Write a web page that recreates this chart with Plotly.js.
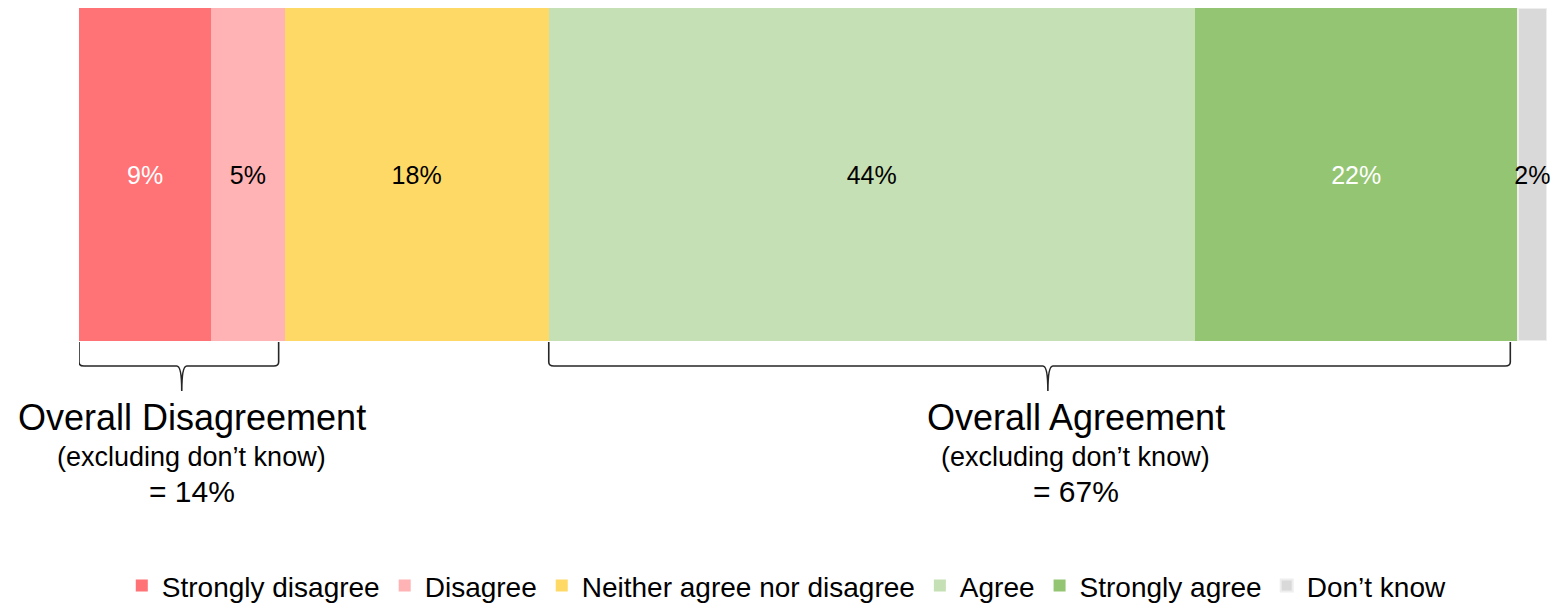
<!DOCTYPE html>
<html>
<head>
<meta charset="utf-8">
<script src="https://cdn.plot.ly/plotly-3.0.1.min.js"></script>
<style>
  html, body { margin: 0; padding: 0; background: #ffffff; }
  #chart { width: 1558px; height: 604px; }
</style>
</head>
<body>
<div id="chart"></div>
<script>
// ---- data ----
const categories = ['Strongly disagree', 'Disagree', 'Neither agree nor disagree', 'Agree', 'Strongly agree', 'Don\u2019t know'];
const values = [9, 5, 18, 44, 22, 2];
const barLabels = ['9%', '5%', '18%', '44%', '22%', '2%'];
const groupTitles = ['Overall Disagreement', 'Overall Agreement'];
const groupSubtitles = ['(excluding don\u2019t know)', '(excluding don\u2019t know)'];
const groupTotals = ['= 14%', '= 67%'];
const groupMembers = [[0, 1], [3, 4]];

// ---- style ----
const colors = ['#FF7276', '#FFB3B5', '#FFD966', '#C5E0B4', '#94C572', '#D9D9D9'];
const textColors = ['#ffffff', '#000000', '#000000', '#000000', '#ffffff', '#000000'];
const lineColors = ['rgba(0,0,0,0)', 'rgba(0,0,0,0)', 'rgba(0,0,0,0)', 'rgba(0,0,0,0)', 'rgba(0,0,0,0)', '#EEEEEE'];
const lineWidths = [0, 0, 0, 0, 0, 2];
const FONT = 'Liberation Sans, Arial, sans-serif';

const traces = categories.map((c, i) => ({
  type: 'bar',
  orientation: 'h',
  name: c,
  y: ['q'],
  x: [values[i]],
  width: 1,
  text: [barLabels[i]],
  textposition: 'inside',
  insidetextanchor: 'middle',
  textangle: 0,
  constraintext: 'none',
  cliponaxis: false,
  textfont: { family: FONT, size: 25, color: textColors[i] },
  marker: { color: colors[i], line: { color: lineColors[i], width: lineWidths[i] } },
  hoverinfo: 'name+x'
}));

// cumulative starts / ends
const starts = [];
let acc = 0;
values.forEach(v => { starts.push(acc); acc += v; });
const ends = values.map((v, i) => starts[i] + v);

// brace geometry (style constants)
const pxPerUnit = (1558 - 79 - 11) / 100;
const plotH = 333;
const py = p => (-(p) / plotH);     // pixel offset below plot bottom -> paper y
const braceInset = [0.4, 0.5];      // data units trimmed at right end
const braceTipShift = [0, 1];       // data units
const textShift = [10, 28];         // px
const r = 5 / pxPerUnit;
const y0 = py(1), y1a = py(21), y1 = py(25), y2 = py(50);

const shapes = [];
const annotations = [];
groupMembers.forEach((g, k) => {
  const a = starts[g[0]];
  const full = ends[g[g.length - 1]];
  const b = full - braceInset[k];
  const m = (a + full) / 2 + braceTipShift[k];
  const path = `M ${a},${y0} L ${a},${y1a} Q ${a},${y1} ${a + r},${y1} L ${m - r},${y1} ` +
    `Q ${m},${y1} ${m},${y2} Q ${m},${y1} ${m + r},${y1} L ${b - r},${y1} Q ${b},${y1} ${b},${y1a} L ${b},${y0}`;
  shapes.push({
    type: 'path', xref: 'x', yref: 'paper', path: path,
    line: { color: '#262626', width: 1.6 }
  });
  const base = { xref: 'x', yref: 'paper', x: m, y: 0, xanchor: 'center', yanchor: 'middle',
    showarrow: false, xshift: textShift[k] };
  annotations.push(Object.assign({}, base, { text: groupTitles[k], yshift: -76,
    font: { family: FONT, size: 36, color: '#000000' } }));
  annotations.push(Object.assign({}, base, { text: groupSubtitles[k], yshift: -116,
    font: { family: FONT, size: 27, color: '#000000' } }));
  annotations.push(Object.assign({}, base, { text: groupTotals[k], yshift: -150,
    font: { family: FONT, size: 30, color: '#000000' } }));
});

const layout = {
  width: 1558,
  height: 604,
  paper_bgcolor: '#ffffff',
  plot_bgcolor: '#ffffff',
  barmode: 'stack',
  margin: { l: 79, r: 11, t: 8, b: 263, pad: 0 },
  xaxis: { range: [0, 100], visible: false, fixedrange: true },
  yaxis: { range: [-0.5, 0.5], visible: false, fixedrange: true },
  showlegend: true,
  legend: {
    orientation: 'h',
    xref: 'container', yref: 'container',
    x: 0.505, xanchor: 'center',
    y: 0.03, yanchor: 'middle',
    font: { family: FONT, size: 28, color: '#000000' },
    traceorder: 'normal',
    bgcolor: 'rgba(0,0,0,0)'
  },
  shapes: shapes,
  annotations: annotations,
  font: { family: FONT }
};

Plotly.newPlot('chart', traces, layout, { displayModeBar: false, staticPlot: true });
</script>
</body>
</html>
